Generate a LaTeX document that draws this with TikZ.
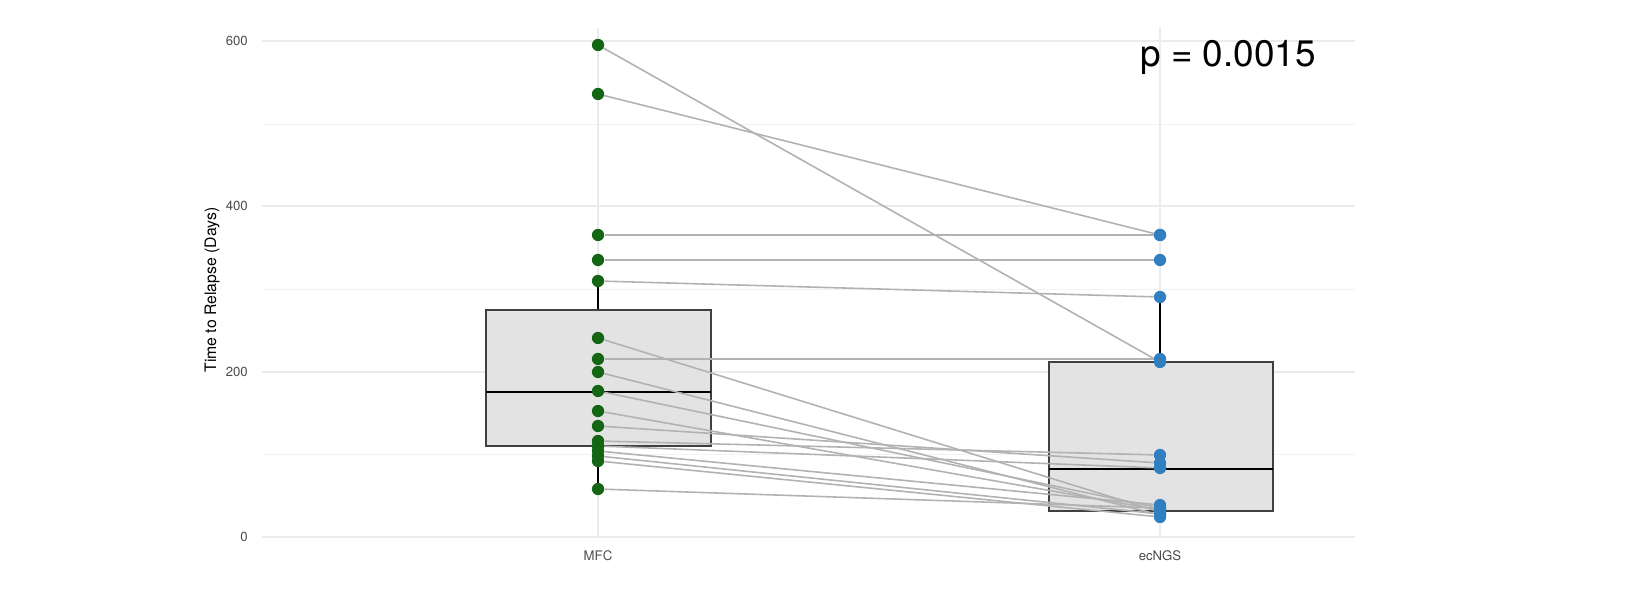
\documentclass[tikz,border=0pt]{standalone}
\usepackage{fontspec}
\setmainfont{TeX Gyre Heros}
\definecolor{dotb}{HTML}{2F7FC1}
\definecolor{dotg}{HTML}{146614}
\begin{document}
\begin{tikzpicture}[x=0.02cm,y=-0.02cm,
 grid/.style={draw=black!8,line width=0.6pt},
 mgrid/.style={draw=black!5,line width=0.4pt},
 pair/.style={draw=black!30,line width=0.9pt},
 box/.style={draw=black!75,fill=black!11,line width=0.8pt},
 g/.style={circle,fill=dotg,inner sep=0pt,minimum size=7pt},
 b/.style={circle,fill=dotb,inner sep=0pt,minimum size=7pt},
 tick/.style={font=\fontsize{7.5}{9}\selectfont,text=black!70}]
\useasboundingbox (0,0) rectangle (1647,614);
\fill[white] (0,0) rectangle (1647,614);
\foreach \y in {454,289,124} \draw[mgrid] (262,\y) -- (1355,\y);
\foreach \y in {537,372,206,41} \draw[grid] (262,\y) -- (1355,\y);
\foreach \x in {598,1160} \draw[grid] (\x,28) -- (\x,537);
\node[tick,anchor=east] (t0) at (254,537) {0};
\node[tick,anchor=east] (t2) at (254,372) {200};
\node[tick,anchor=east] (t4) at (254,206) {400};
\node[tick,anchor=east] (t6) at (254,41) {600};
\node[tick] (lm) at (598,556) {MFC};
\node[tick] (le) at (1160,556) {ecNGS};
\node[rotate=90,font=\fontsize{9}{11}\selectfont] (yl) at (212,290) {Time to Relapse (Days)};
\node[font=\fontsize{21}{25}\selectfont,anchor=east] (p) at (1322,57) {p = 0.0015};
% boxes
\draw[black,line width=0.9pt] (598,281) -- (598,489);
\draw[black,line width=0.9pt] (1160,297) -- (1160,511);
\draw[box] (486,310) rectangle (711,446);
\draw[black,line width=1.6pt] (486,392) -- (711,392);
\draw[box] (1049,362) rectangle (1273,511);
\draw[black,line width=1.6pt] (1049,469) -- (1273,469);
% pairs
\foreach \a/\bb [count=\i] in {45/362,94/235,235/235,260/260,281/297,338/512,359/359,372/515,391/508,411/510,426/463,441/455,446/468,451/505,456/514,461/517,489/508}{
 \node[g] (m\i) at (598,\a) {};
 \node[b] (e\i) at (1160,\bb) {};
 \draw[pair] (m\i) -- (e\i);
}
\end{tikzpicture}
\end{document}
